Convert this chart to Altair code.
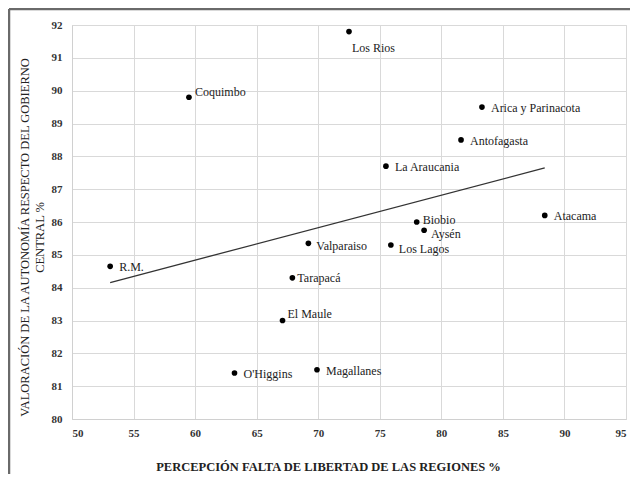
import altair as alt
import pandas as pd

# ---- data ----
regions = ["Los Rios", "Coquimbo", "Arica y Parinacota", "Antofagasta", "La Araucania",
           "Atacama", "Biobio", "Aysén", "Los Lagos", "Valparaiso", "R.M.", "Tarapacá",
           "El Maule", "O'Higgins", "Magallanes"]
libertad = [72.5, 59.5, 83.3, 81.6, 75.5, 88.4, 78.0, 78.6, 75.9, 69.2, 53.1, 67.9, 67.1, 63.2, 69.9]
autonomia = [91.8, 89.8, 89.5, 88.5, 87.7, 86.2, 86.0, 85.75, 85.3, 85.35, 84.65, 84.3, 83.0, 81.4, 81.5]
x_ticks = [50, 55, 60, 65, 70, 75, 80, 85, 90, 95]
y_ticks = [80, 81, 82, 83, 84, 85, 86, 87, 88, 89, 90, 91, 92]

x_title = "PERCEPCIÓN FALTA DE LIBERTAD DE LAS REGIONES %"
y_title = ["VALORACIÓN  DE LA AUTONOMÍA RESPECTO DEL GOBIERNO", "CENTRAL %"]

df = pd.DataFrame({"region": regions, "libertad": libertad, "autonomia": autonomia})

FONT = "Liberation Serif, Times New Roman, serif"
W, H = 554, 394

xs = alt.X("libertad:Q", scale=alt.Scale(domain=[50, 95], nice=False, zero=False),
           axis=alt.Axis(values=x_ticks, title=x_title, labelFont=FONT,
                         labelFontWeight="bold", labelOverlap=False,
                         labelFontSize=11, labelColor="#333", labelPadding=8, ticks=False,
                         domainColor="#d0d0d0", gridColor="#d9d9d9", grid=True,
                         titleFont=FONT, titleFontSize=12.5, titleFontWeight="bold",
                         titleColor="#222", titleX=256, titleY=47, titleBaseline="middle"))
ys = alt.Y("autonomia:Q", scale=alt.Scale(domain=[80, 92], nice=False, zero=False),
           axis=alt.Axis(values=y_ticks, title=y_title, labelFont=FONT,
                         labelFontWeight="bold", labelOverlap=False,
                         labelFontSize=11, labelColor="#333", labelPadding=10, ticks=False,
                         domainColor="#d0d0d0", gridColor="#d9d9d9", grid=True,
                         titleFont=FONT, titleFontSize=12.5, titleFontWeight="normal",
                         titleColor="#222", titleAngle=-90, titleX=-54, titleY=212,
                         titleBaseline="top", titleAlign="center", titleLineHeight=15))

base = alt.Chart(df)

trend = base.transform_regression("libertad", "autonomia").mark_line(
    color="#333", strokeWidth=1.3).encode(x=xs, y=ys)

points = base.mark_point(filled=True, color="black", size=32, opacity=1).encode(x=xs, y=ys)

# label placement groups (layout only)
groups = [
    (["Arica y Parinacota", "Antofagasta", "La Araucania", "Atacama", "R.M.",
      "O'Higgins", "Magallanes"], 9, 1),
    (["Valparaiso"], 8, 3),
    (["Los Lagos"], 8, 4),
    (["Tarapacá"], 5, 0),
    (["Biobio"], 6, -2),
    (["Coquimbo"], 6, -5),
    (["El Maule"], 5, -7),
    (["Aysén"], 7, 4),
    (["Los Rios"], 3, 16),
]
label_layers = []
for names, dx, dy in groups:
    label_layers.append(
        base.transform_filter(alt.FieldOneOfPredicate(field="region", oneOf=names))
        .mark_text(align="left", baseline="middle", dx=dx, dy=dy, font=FONT,
                   fontSize=12, color="#222")
        .encode(x=xs, y=ys, text="region:N")
    )

frame_src = alt.Chart(pd.DataFrame({"a": [0]}))
frame_top = frame_src.mark_rule(color="#6a6a6a", strokeWidth=2.5).encode(
    x=alt.value(-63), x2=alt.value(W + 20), y=alt.value(-16))
frame_left = frame_src.mark_rule(color="#6a6a6a", strokeWidth=2.5).encode(
    x=alt.value(-63), y=alt.value(-16), y2=alt.value(H + 80))

chart = alt.layer(trend, points, *label_layers, frame_top, frame_left).properties(
    width=W, height=H,
    autosize=alt.AutoSizeParams(type="none"),
    padding={"left": 64, "top": 17, "right": 4, "bottom": 55},
).configure_view(stroke=None).configure(background="white")

chart.save("out.html", embed_options={"renderer": "svg", "actions": False})
